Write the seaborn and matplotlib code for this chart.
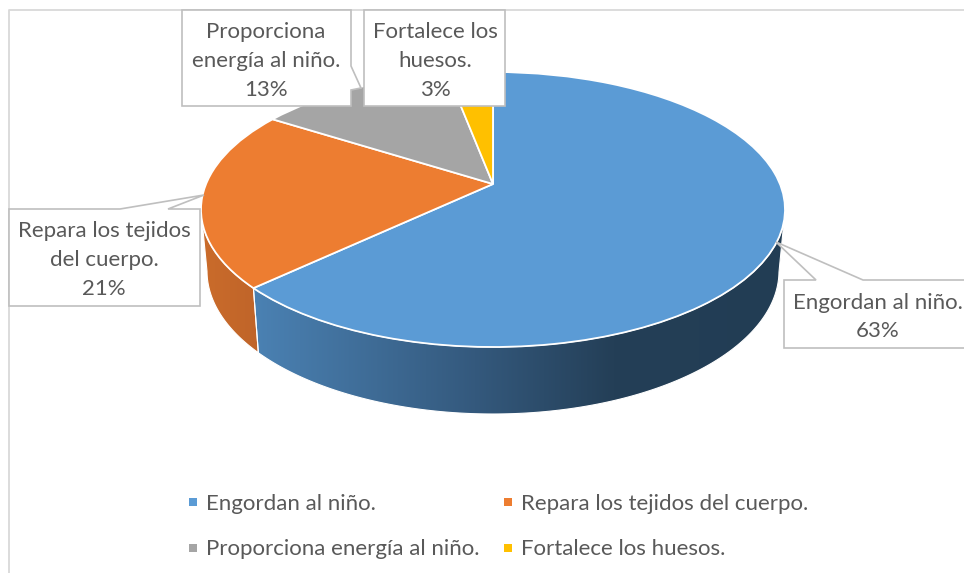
import numpy as np
import matplotlib
matplotlib.use("Agg")
import matplotlib.pyplot as plt
import seaborn as sns
from matplotlib.colors import LinearSegmentedColormap
from matplotlib.lines import Line2D
from matplotlib.patches import Polygon
from matplotlib.transforms import Transform

categories = ["Engordan al niño.", "Repara los tejidos del cuerpo.",
              "Proporciona energía al niño.", "Fortalece los huesos."]
values = [63, 21, 13, 3]
callouts = ["Engordan al niño.", "Repara los tejidos\ndel cuerpo.",
            "Proporciona\nenergía al niño.", "Fortalece los\nhuesos."]
colors = ["#5B9BD5", "#ED7D31", "#A5A5A5", "#FFC000"]

sns.set_theme(style="white")
plt.rcParams["font.family"] = ["Lato", "DejaVu Sans"]
palette = sns.color_palette(colors)
text_color = "#595959"
box_color = "#BFBFBF"

# top and bottom faces of the pie, in pixels
cx, cy, rx, ry = 493, 209.5, 292, 137.5
bx, by, brx, bry = 493, 271, 286, 143
v0 = (cy - 184) / ry


def to_disc(x, y):
    # perspective: the pie centre sits above the middle of the ellipse
    w = 1 + v0 * y
    return x * np.sqrt(1 - v0 ** 2) / w, (y + v0) / w


class TopFace(Transform):
    input_dims = 2
    output_dims = 2

    def transform_non_affine(self, xy):
        xy = np.asarray(xy)
        u, v = to_disc(xy[:, 0], xy[:, 1])
        return np.column_stack([cx + rx * u, cy - ry * v])


fig = plt.figure(figsize=(9.64, 5.73), dpi=100)
ax = fig.add_axes([0, 0, 1, 1])

wedges, _ = ax.pie(values, colors=palette, startangle=90, counterclock=False,
                   wedgeprops=dict(edgecolor="white", linewidth=1.3))
ax.set_aspect("auto")
ax.set_xlim(0, 964)
ax.set_ylim(573, 0)
ax.set_axis_on()
ax.set_frame_on(False)
ax.set_xticks([])
ax.set_yticks([])

for w in wedges:
    w.set_transform(TopFace() + ax.transData)
    w.set_zorder(3)

# side wall of the two front slices, with a shaded fill
fractions = np.cumsum([0] + values) / sum(values)
wall_cmaps = [
    LinearSegmentedColormap.from_list("b", [(0, "#4B82B4"), (0.42, "#34597D"),
                                            (0.68, "#243F57"), (1, "#223D54")]),
    LinearSegmentedColormap.from_list("o", ["#CB6C2B", "#BF6429"]),
]
wall_extent = [(250, 785), (200, 260)]
for i in range(2):
    t = np.radians(90 - 360 * np.linspace(fractions[i], fractions[i + 1], 400))
    u, v = to_disc(np.cos(t), np.sin(t))
    # only the front half of the rim shows
    keep = v <= 0
    u, v = u[keep], v[keep]
    top = np.column_stack([cx + rx * u, cy - ry * v])
    bottom = np.column_stack([bx + brx * u, by - bry * v])
    poly = Polygon(np.vstack([top, bottom[::-1]]), closed=True, facecolor="none",
                   edgecolor="white", linewidth=0.8, zorder=2.1)
    ax.add_patch(poly)
    x0, x1 = wall_extent[i]
    img = ax.imshow(np.linspace(0, 1, 256)[None, :], cmap=wall_cmaps[i], aspect="auto",
                    extent=[x0, x1, 420, 190], interpolation="bilinear", zorder=2)
    img.set_clip_path(poly)
ax.set_xlim(0, 964)
ax.set_ylim(573, 0)

# chart area border
ax.plot([964, 9, 9], [9.5, 9.5, 573], color="#D9D9D9", lw=1.3, zorder=1)

# data labels, callout shapes
shapes = [
    [(784, 280), (816, 280), (776, 242), (863, 280), (975, 280), (975, 348), (784, 348)],
    [(9, 209), (120, 209), (204, 195), (168, 209), (200, 209), (200, 306), (9, 306)],
    [(182, 10), (351, 10), (351, 66), (361, 88), (351, 90), (351, 106), (182, 106)],
    [(364, 10), (505, 10), (505, 106), (364, 106)],
]
label_pos = [(878, 317), (104, 260), (266, 61), (435, 61)]
for i in range(4):
    ax.add_patch(Polygon(shapes[i], closed=True, facecolor="white", edgecolor=box_color,
                         linewidth=1.2, joinstyle="miter", zorder=4))
    ax.text(label_pos[i][0], label_pos[i][1], f"{callouts[i]}\n{values[i]}%",
            ha="center", va="center", color=text_color, fontsize=16,
            linespacing=1.55, zorder=5)

# legend fills by column, so swap the middle two
order = [0, 2, 1, 3]
handles = [Line2D([], [], linestyle="none", marker="s", markersize=5.8, markeredgewidth=0,
                  color=palette[i]) for i in order]
ax.legend(handles, [categories[i] for i in order], ncol=2, frameon=False,
          loc="center left", bbox_to_anchor=(184 / 964, 1 - 526.5 / 573),
          fontsize=16, labelcolor=text_color, handlelength=0.8, handletextpad=0.2,
          columnspacing=0.85, labelspacing=1.15, borderpad=0, borderaxespad=0)

fig.savefig("out.png", dpi=100)
